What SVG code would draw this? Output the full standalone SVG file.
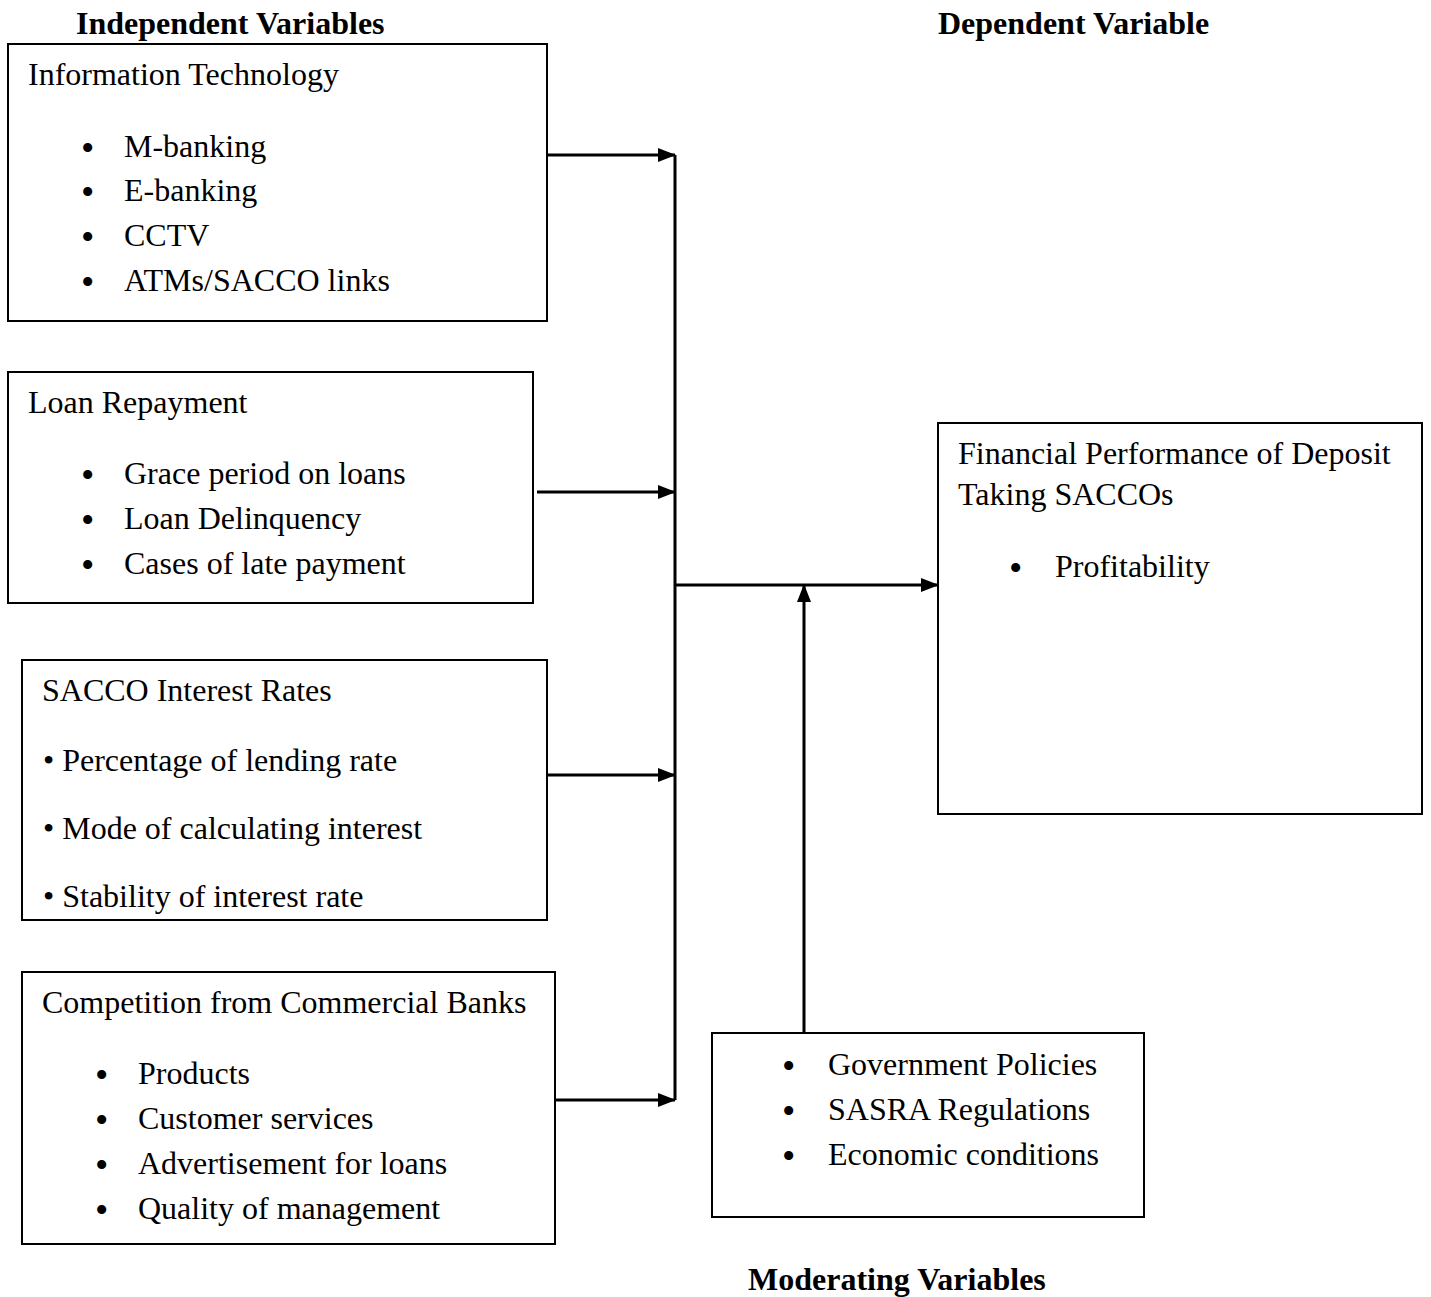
<svg xmlns="http://www.w3.org/2000/svg" width="1431" height="1297" viewBox="0 0 1431 1297">
<defs>
<marker id="ah" markerWidth="18" markerHeight="14" refX="17" refY="7" orient="auto" markerUnits="userSpaceOnUse"><path d="M0,0 L18,7 L0,14 Z" fill="#000"/></marker>
<style>
text{font-family:"Liberation Serif","Times New Roman",serif;font-size:32px;fill:#000}
.h{font-weight:bold}
.b{font-size:38px}
.box{fill:#fff;stroke:#000;stroke-width:2}
.c{stroke:#000;stroke-width:3;fill:none}
</style>
</defs>
<rect width="1431" height="1297" fill="#fff"/>
<text class="h" x="76" y="34">Independent Variables</text>
<text class="h" x="938" y="34">Dependent Variable</text>
<text class="h" x="748" y="1290">Moderating Variables</text>
<g id="it">
<rect class="box" x="8" y="44" width="539" height="277"/>
<text x="28" y="85">Information Technology</text>
<text class="b" x="81" y="161">•</text><text x="124" y="157">M-banking</text>
<text class="b" x="81" y="205">•</text><text x="124" y="201">E-banking</text>
<text class="b" x="81" y="250">•</text><text x="124" y="246">CCTV</text>
<text class="b" x="81" y="295">•</text><text x="124" y="291">ATMs/SACCO links</text>
</g>
<g id="loan">
<rect class="box" x="8" y="372" width="525" height="231"/>
<text x="28" y="413">Loan Repayment</text>
<text class="b" x="81" y="488">•</text><text x="124" y="484">Grace period on loans</text>
<text class="b" x="81" y="533">•</text><text x="124" y="529">Loan Delinquency</text>
<text class="b" x="81" y="578">•</text><text x="124" y="574">Cases of late payment</text>
</g>
<g id="rates">
<rect class="box" x="22" y="660" width="525" height="260"/>
<text x="42" y="701">SACCO Interest Rates</text>
<text x="43" y="771">• Percentage of lending rate</text>
<text x="43" y="839">• Mode of calculating interest</text>
<text x="43" y="907">• Stability of interest rate</text>
</g>
<g id="comp">
<rect class="box" x="22" y="972" width="533" height="272"/>
<text x="42" y="1013">Competition from Commercial Banks</text>
<text class="b" x="95" y="1088">•</text><text x="138" y="1084">Products</text>
<text class="b" x="95" y="1133">•</text><text x="138" y="1129">Customer services</text>
<text class="b" x="95" y="1178">•</text><text x="138" y="1174">Advertisement for loans</text>
<text class="b" x="95" y="1223">•</text><text x="138" y="1219">Quality of management</text>
</g>
<g id="dv">
<rect class="box" x="938" y="423" width="484" height="391"/>
<text x="958" y="464">Financial Performance of Deposit</text>
<text x="958" y="505">Taking SACCOs</text>
<text class="b" x="1009" y="581">•</text><text x="1055" y="577">Profitability</text>
</g>
<g id="mod">
<rect class="box" x="712" y="1033" width="432" height="184"/>
<text class="b" x="782" y="1079">•</text><text x="828" y="1075">Government Policies</text>
<text class="b" x="782" y="1124">•</text><text x="828" y="1120">SASRA Regulations</text>
<text class="b" x="782" y="1169">•</text><text x="828" y="1165">Economic conditions</text>
</g>
<g id="connectors">
<line class="c" x1="675" y1="155" x2="675" y2="1100"/>
<line class="c" x1="547" y1="155" x2="675" y2="155" marker-end="url(#ah)"/>
<line class="c" x1="537" y1="492" x2="675" y2="492" marker-end="url(#ah)"/>
<line class="c" x1="547" y1="775" x2="675" y2="775" marker-end="url(#ah)"/>
<line class="c" x1="555" y1="1100" x2="675" y2="1100" marker-end="url(#ah)"/>
<line class="c" x1="675" y1="585" x2="938" y2="585" marker-end="url(#ah)"/>
<line class="c" x1="804" y1="1033" x2="804" y2="585" marker-end="url(#ah)"/>
</g>
</svg>
